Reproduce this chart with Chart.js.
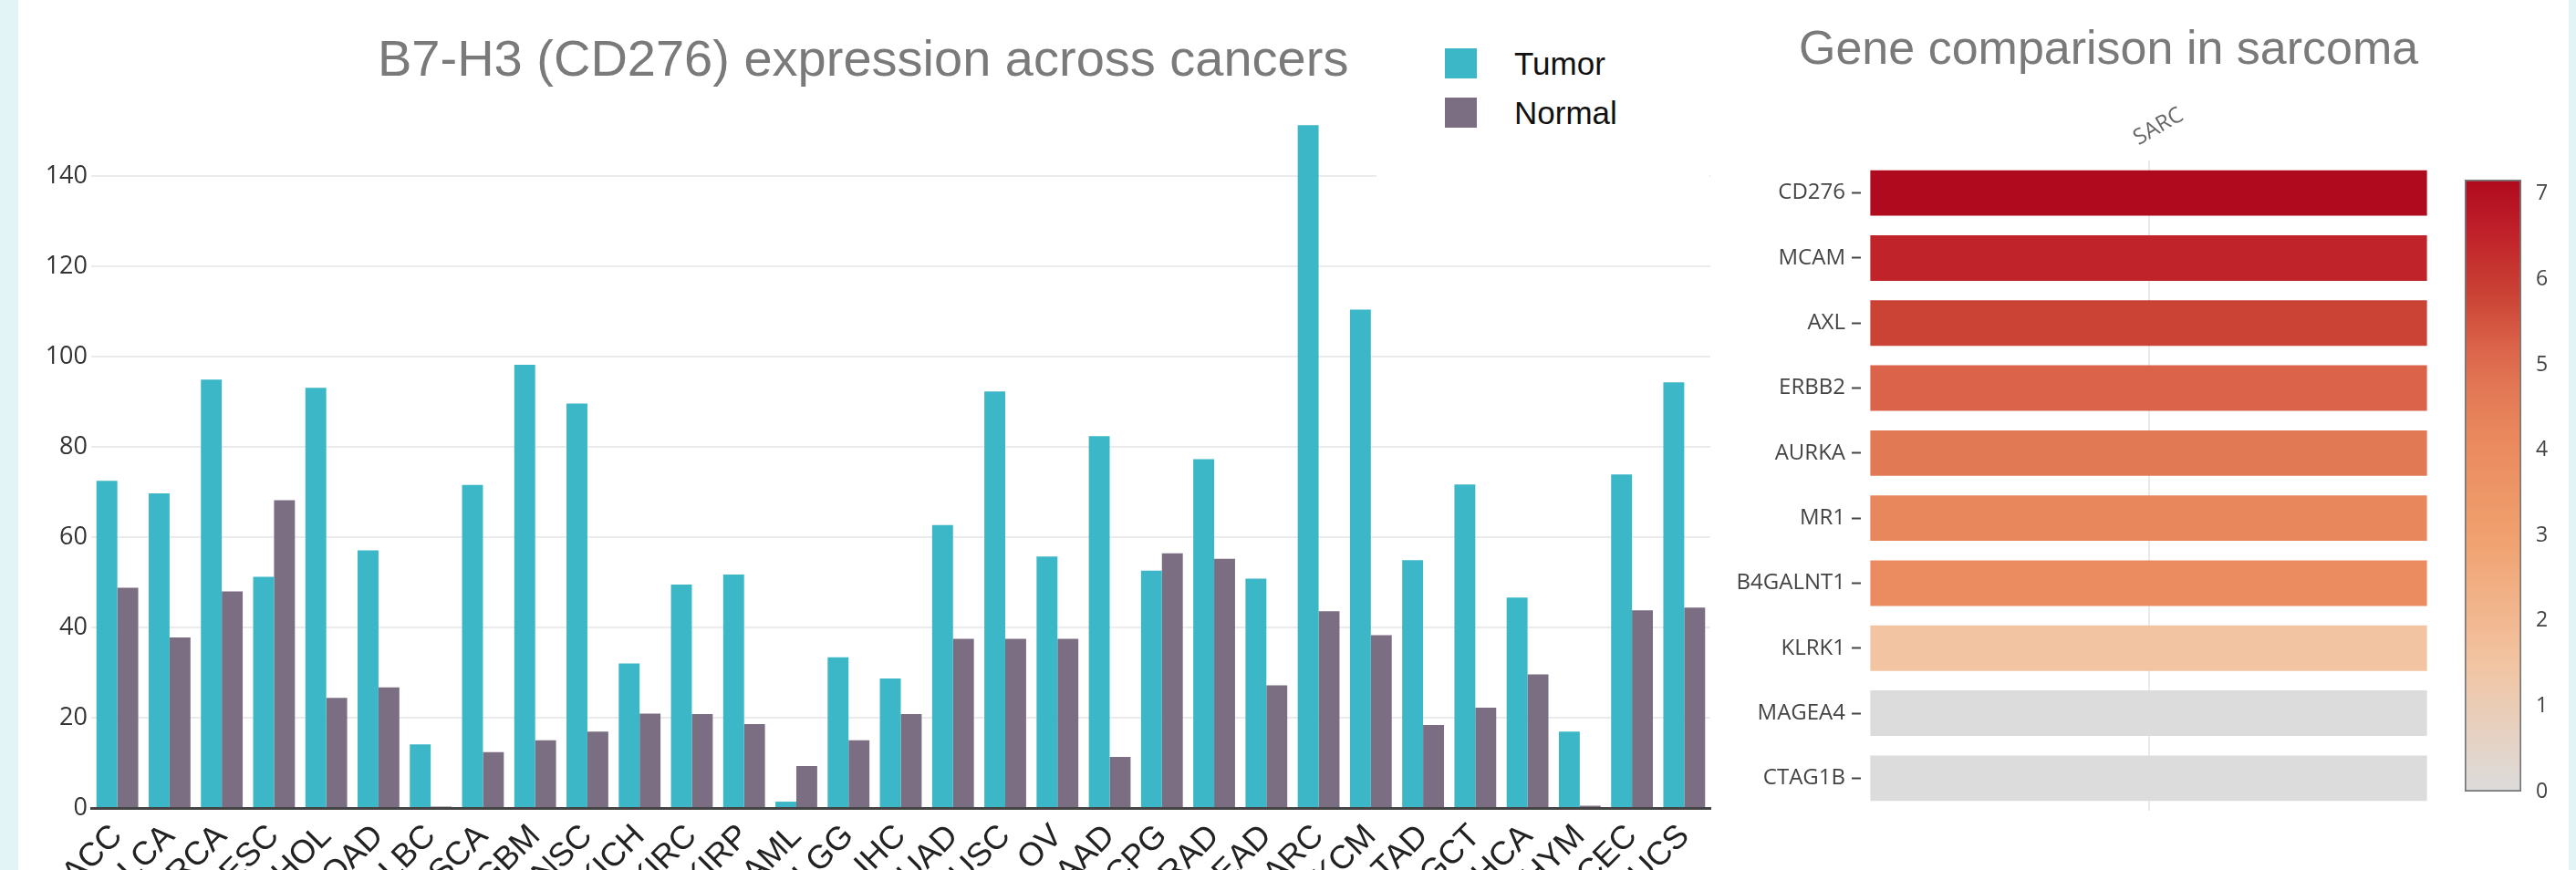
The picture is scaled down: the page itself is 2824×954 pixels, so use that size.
<!DOCTYPE html>
<html>
<head>
<meta charset="utf-8">
<script src="https://cdn.jsdelivr.net/npm/chart.js@4.4.1/dist/chart.umd.min.js"></script>
<style>
  html, body { margin: 0; padding: 0; }
  body { width: 2824px; height: 954px; background: #e3f4f6; position: relative; overflow: hidden;
         font-family: "Liberation Sans", Arial, sans-serif; }
  #panel { position: absolute; left: 20px; top: 0; width: 2796px; height: 954px; background: #fff; }
  .holder { position: absolute; top: 0; }
  .title { position: absolute; color: #7a7a7a; line-height: 1; white-space: nowrap; }
  #legend { position: absolute; left: 1509px; top: 30px; width: 365px; height: 170px; background: #fff; }
  .sw { position: absolute; width: 35px; height: 33px; }
  .lt { position: absolute; font-size: 35px; line-height: 35px; color: #111; white-space: nowrap; }
</style>
</head>
<body>
<div id="panel"></div>

<div class="holder" style="left:20px"><canvas id="cancers" width="1880" height="954"></canvas></div>
<div class="holder" style="left:1900px"><canvas id="genes" width="790" height="954"></canvas></div>
<div class="holder" style="left:2690px"><canvas id="colorbar" width="126" height="954"></canvas></div>

<div class="title" style="left:414px; top:36px; font-size:56px">B7-H3 (CD276) expression across cancers</div>
<div class="title" style="left:1972px; top:26px; font-size:52px">Gene comparison in sarcoma</div>
<div id="legend"></div>

<script>
// left panel: expression per cancer type
var cancerTypes = ["ACC", "BLCA", "BRCA", "CESC", "CHOL", "COAD", "DLBC", "ESCA", "GBM", "HNSC",
                   "KICH", "KIRC", "KIRP", "LAML", "LGG", "LIHC", "LUAD", "LUSC", "OV", "PAAD",
                   "PCPG", "PRAD", "READ", "SARC", "SKCM", "STAD", "TGCT", "THCA", "THYM", "UCEC", "UCS"];
var tumorValues = [72.5, 69.7, 94.9, 51.2, 93.1, 57.1, 14.1, 71.6, 98.2, 89.6,
                   32.0, 49.5, 51.7, 1.4, 33.4, 28.7, 62.7, 92.3, 55.7, 82.4,
                   52.6, 77.3, 50.8, 151.3, 110.4, 54.9, 71.7, 46.6, 16.9, 73.9, 94.3];
var normalValues = [48.8, 37.8, 48.0, 68.2, 24.4, 26.7, 0.3, 12.4, 15.0, 16.9,
                    20.9, 20.8, 18.6, 9.3, 15.0, 20.8, 37.5, 37.5, 37.5, 11.3,
                    56.4, 55.2, 27.2, 43.6, 38.3, 18.4, 22.2, 29.6, 0.5, 43.8, 44.4];
var seriesNames = ["Tumor", "Normal"];
var seriesColors = ["#3bb7c7", "#7b6e82"];
var yTickValues = [0, 20, 40, 60, 80, 100, 120, 140];
var yMax = 158;

// right panel: heatmap column for sarcoma
var heatColumns = ["SARC"];
var genes = ["CD276", "MCAM", "AXL", "ERBB2", "AURKA", "MR1", "B4GALNT1", "KLRK1", "MAGEA4", "CTAG1B"];
var sarcValues = [7.17, 6.5, 5.8, 5.2, 4.7, 4.2, 4.0, 1.5, 0, 0];
var colorbarTicks = [0, 1, 2, 3, 4, 5, 6, 7];
var colorStops = [[0, "#dcdcdc"], [0.21, "#f2c4a2"], [0.42, "#f0a06e"], [0.57, "#ea8a5e"], [0.66, "#e27855"],
                  [0.73, "#db6249"], [0.81, "#cb4335"], [0.91, "#c0222a"], [1, "#b00a1e"]];

var cMax = Math.max.apply(null, sarcValues);

function hexRgb(h) {
  return [parseInt(h.substr(1, 2), 16), parseInt(h.substr(3, 2), 16), parseInt(h.substr(5, 2), 16)];
}

function heatColor(v) {
  var f = Math.max(0, Math.min(1, v / cMax));
  for (var i = 1; i < colorStops.length; i++) {
    if (f <= colorStops[i][0]) {
      var a = colorStops[i - 1], b = colorStops[i];
      var t = (f - a[0]) / (b[0] - a[0]);
      var ca = hexRgb(a[1]), cb = hexRgb(b[1]);
      var c = ca.map(function (x, k) { return Math.round(x + (cb[k] - x) * t); });
      return "rgb(" + c.join(",") + ")";
    }
  }
  return colorStops[colorStops.length - 1][1];
}

// html legend for the left chart
var legend = document.getElementById("legend");
seriesNames.forEach(function (name, i) {
  var sw = document.createElement("div");
  sw.className = "sw";
  sw.style.left = "75px";
  sw.style.top = (23 + i * 54) + "px";
  sw.style.background = seriesColors[i];
  legend.appendChild(sw);
  var t = document.createElement("div");
  t.className = "lt";
  t.style.left = "151px";
  t.style.top = (22 + i * 54) + "px";
  t.textContent = name;
  legend.appendChild(t);
});

function drawCharts() {
  new Chart(document.getElementById("cancers"), {
    type: 'bar',
    data: {
      labels: cancerTypes,
      datasets: [
        { label: seriesNames[0], data: tumorValues, backgroundColor: seriesColors[0] },
        { label: seriesNames[1], data: normalValues, backgroundColor: seriesColors[1] }
      ]
    },
    options: {
      responsive: false,
      animation: false,
      layout: { padding: { top: 104, right: 25, left: 0, bottom: 0 } },
      plugins: { legend: { display: false }, tooltip: { enabled: false } },
      datasets: { bar: { categoryPercentage: 0.8, barPercentage: 1 } },
      scales: {
        x: {
          grid: { display: false, drawTicks: false },
          border: { display: true, color: '#444', width: 3 },
          ticks: {
            autoSkip: false, minRotation: 45, maxRotation: 45, padding: 10,
            color: '#222', font: { family: 'Liberation Sans', size: 36 }
          },
          afterFit: function (s) { s.height = 68; }
        },
        y: {
          min: 0, max: yMax,
          afterBuildTicks: function (s) { s.ticks = yTickValues.map(function (v) { return { value: v }; }); },
          grid: { color: '#ebebeb', lineWidth: 2, drawTicks: false },
          border: { display: false },
          ticks: { padding: 4, color: '#333', font: { family: 'Open Sans', size: 27 } },
          afterFit: function (s) { s.width = 80; }
        }
      }
    }
  });

  new Chart(document.getElementById("genes"), {
    type: 'bar',
    data: {
      labels: genes,
      datasets: [{
        label: heatColumns[0],
        data: genes.map(function () { return [0 - 0.5, 0 + 0.5]; }),
        backgroundColor: sarcValues.map(heatColor)
      }]
    },
    options: {
      indexAxis: 'y',
      responsive: false,
      animation: false,
      layout: { padding: { top: 116, right: 19, bottom: 65, left: 0 } },
      plugins: { legend: { display: false }, tooltip: { enabled: false } },
      datasets: { bar: { categoryPercentage: 1, barPercentage: 0.7 } },
      scales: {
        x: {
          type: 'linear', position: 'top', min: -0.517, max: 0.517,
          afterBuildTicks: function (s) { s.ticks = heatColumns.map(function (c, i) { return { value: i }; }); },
          grid: { color: '#eaeaea', lineWidth: 2, drawTicks: false },
          border: { display: false },
          ticks: {
            callback: function (v, i) { return heatColumns[i]; },
            minRotation: 30, maxRotation: 30, padding: 10,
            color: '#666', font: { family: 'Open Sans', size: 24 }
          },
          afterFit: function (s) { s.height = 60; }
        },
        y: {
          grid: { offset: false, drawOnChartArea: false, drawTicks: true, tickLength: 10, tickColor: '#444', tickWidth: 2 },
          border: { display: false },
          ticks: { padding: 7, color: '#444', font: { family: 'Open Sans', size: 24 } },
          afterFit: function (s) { s.width = 140; }
        }
      }
    }
  });

  new Chart(document.getElementById("colorbar"), {
    type: 'bar',
    data: {
      labels: heatColumns,
      datasets: [{
        data: [[0, cMax]],
        backgroundColor: function (ctx) {
          var area = ctx.chart.chartArea;
          if (!area) return null;
          var g = ctx.chart.ctx.createLinearGradient(0, area.bottom, 0, area.top);
          colorStops.forEach(function (s) { g.addColorStop(s[0], s[1]); });
          return g;
        },
        borderColor: '#777',
        borderWidth: 2,
        borderSkipped: false
      }]
    },
    options: {
      responsive: false,
      animation: false,
      layout: { padding: { top: 197, bottom: 86, left: 12, right: 0 } },
      plugins: { legend: { display: false }, tooltip: { enabled: false } },
      datasets: { bar: { categoryPercentage: 1, barPercentage: 1 } },
      scales: {
        x: { display: false },
        y: {
          position: 'right', min: 0, max: cMax,
          afterBuildTicks: function (s) { s.ticks = colorbarTicks.map(function (v) { return { value: v }; }); },
          grid: { display: false },
          border: { display: false },
          ticks: { padding: 8, color: '#444', font: { family: 'Open Sans', size: 23 } },
          afterFit: function (s) { s.width = 52; }
        }
      }
    }
  });
}

Promise.all([
  document.fonts.load('27px "Open Sans"'),
  document.fonts.load('36px "Liberation Sans"')
]).then(drawCharts, drawCharts);
</script>
</body>
</html>
